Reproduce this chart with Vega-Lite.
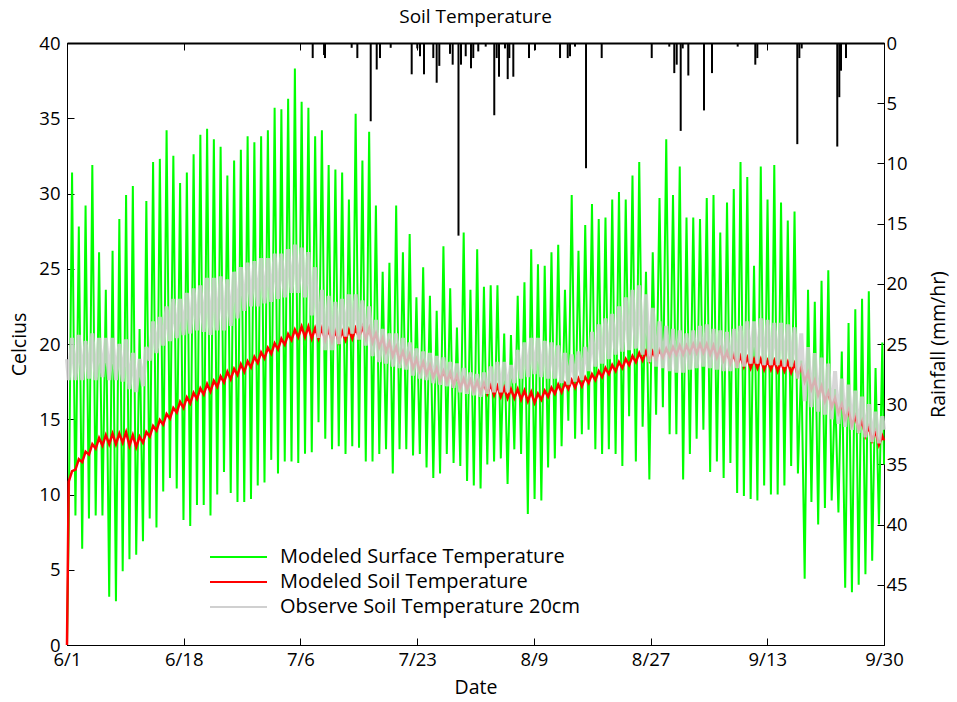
{
"$schema": "https://vega.github.io/schema/vega-lite/v6.json",
"autosize": {"type": "none"},
"width": 817, "height": 602,
"padding": {"left": 67, "top": 43, "right": 73, "bottom": 57},
"background": "white",
"title": {"text": "Soil Temperature", "fontSize": 19, "fontWeight": "normal", "font": "Open Sans", "color": "black", "offset": 7},
"config": {
  "view": {"stroke": "black", "strokeWidth": 1},
  "axis": {"labelFont": "Open Sans", "titleFont": "Open Sans", "labelFontSize": 18.5, "titleFontSize": 19.5, "titleFontWeight": "normal", "labelColor": "black", "titleColor": "black", "domainColor": "black", "tickColor": "black", "grid": false},
  "legend": {"labelFont": "Open Sans", "labelFontSize": 20, "labelColor": "black", "labelLimit": 0}
},
"datasets": {
"temps": [
{"d":0,"s":0,"m":0,"o":19.0},
{"d":0.25,"s":7.8,"m":10.85,"o":17.6},{"d":0.75,"s":31.4,"m":11.55,"o":20.4},
{"d":1.25,"s":8.6,"m":11.65,"o":17.6},{"d":1.75,"s":27.8,"m":12.35,"o":20.6},
{"d":2.25,"s":6.4,"m":12.15,"o":17.6},{"d":2.75,"s":29.2,"m":12.85,"o":20.2},
{"d":3.25,"s":8.4,"m":12.65,"o":17.7},{"d":3.75,"s":31.9,"m":13.35,"o":20.7},
{"d":4.25,"s":8.6,"m":13.05,"o":17.6},{"d":4.75,"s":26.1,"m":13.75,"o":20.4},
{"d":5.25,"s":8.6,"m":13.25,"o":17.8},{"d":5.75,"s":23.6,"m":13.95,"o":20.4},
{"d":6.25,"s":3.2,"m":13.35,"o":17.6},{"d":6.75,"s":26.2,"m":14.05,"o":20.4},
{"d":7.25,"s":2.9,"m":13.35,"o":17.6},{"d":7.75,"s":28.3,"m":14.05,"o":20.0},
{"d":8.25,"s":4.9,"m":13.45,"o":17.5},{"d":8.75,"s":29.9,"m":14.15,"o":20.3},
{"d":9.25,"s":5.7,"m":13.25,"o":17.0},{"d":9.75,"s":30.5,"m":13.95,"o":19.4},
{"d":10.25,"s":6.0,"m":13.15,"o":16.8},{"d":10.75,"s":21.0,"m":13.85,"o":19.0},
{"d":11.25,"s":6.9,"m":13.45,"o":17.2},{"d":11.75,"s":29.5,"m":14.15,"o":19.8},
{"d":12.25,"s":8.4,"m":13.85,"o":18.9},{"d":12.75,"s":32.1,"m":14.55,"o":21.5},
{"d":13.25,"s":7.8,"m":14.25,"o":19.4},{"d":13.75,"s":32.3,"m":14.95,"o":21.8},
{"d":14.25,"s":10.2,"m":14.65,"o":19.9},{"d":14.75,"s":34.2,"m":15.35,"o":22.5},
{"d":15.25,"s":11.1,"m":15.05,"o":20.2},{"d":15.75,"s":32.5,"m":15.75,"o":23.0},
{"d":16.25,"s":10.4,"m":15.45,"o":20.4},{"d":16.75,"s":30.7,"m":16.15,"o":23.0},
{"d":17.25,"s":8.3,"m":15.75,"o":20.6},{"d":17.75,"s":31.4,"m":16.45,"o":23.4},
{"d":18.25,"s":7.9,"m":16.05,"o":20.7},{"d":18.75,"s":32.6,"m":16.75,"o":23.7},
{"d":19.25,"s":9.3,"m":16.35,"o":20.9},{"d":19.75,"s":33.9,"m":17.05,"o":23.9},
{"d":20.25,"s":9.3,"m":16.65,"o":20.8},{"d":20.75,"s":34.3,"m":17.35,"o":24.4},
{"d":21.25,"s":8.6,"m":16.85,"o":20.6},{"d":21.75,"s":33.6,"m":17.55,"o":24.4},
{"d":22.25,"s":10.0,"m":17.15,"o":20.9},{"d":22.75,"s":33.1,"m":17.85,"o":24.5},
{"d":23.25,"s":11.5,"m":17.45,"o":20.9},{"d":23.75,"s":31.2,"m":18.15,"o":24.3},
{"d":24.25,"s":10.1,"m":17.65,"o":21.2},{"d":24.75,"s":32.2,"m":18.35,"o":24.8},
{"d":25.25,"s":9.5,"m":17.95,"o":21.7},{"d":25.75,"s":32.9,"m":18.65,"o":25.1},
{"d":26.25,"s":9.5,"m":18.15,"o":22.2},{"d":26.75,"s":33.8,"m":18.85,"o":25.4},
{"d":27.25,"s":9.7,"m":18.45,"o":22.5},{"d":27.75,"s":33.4,"m":19.15,"o":25.5},
{"d":28.25,"s":10.6,"m":18.75,"o":22.5},{"d":28.75,"s":33.8,"m":19.45,"o":25.7},
{"d":29.25,"s":10.8,"m":19.05,"o":22.7},{"d":29.75,"s":34.2,"m":19.75,"o":25.7},
{"d":30.25,"s":12.3,"m":19.35,"o":22.8},{"d":30.75,"s":35.7,"m":20.05,"o":26.0},
{"d":31.25,"s":11.4,"m":19.65,"o":23.0},{"d":31.75,"s":35.6,"m":20.35,"o":26.0},
{"d":32.25,"s":12.2,"m":19.95,"o":23.1},{"d":32.75,"s":36.3,"m":20.65,"o":26.3},
{"d":33.25,"s":12.2,"m":20.25,"o":23.4},{"d":33.75,"s":38.3,"m":20.95,"o":26.6},
{"d":34.25,"s":12.1,"m":20.45,"o":23.4},{"d":34.75,"s":36.1,"m":21.15,"o":26.4},
{"d":35.25,"s":12.7,"m":20.45,"o":23.1},{"d":35.75,"s":35.7,"m":21.15,"o":26.1},
{"d":36.25,"s":12.8,"m":20.35,"o":21.9},{"d":36.75,"s":33.8,"m":21.05,"o":25.1},
{"d":37.25,"s":14.8,"m":20.35,"o":20.4},{"d":37.75,"s":34.2,"m":21.05,"o":23.6},
{"d":38.25,"s":13.7,"m":20.25,"o":19.6},{"d":38.75,"s":31.9,"m":20.95,"o":23.2},
{"d":39.25,"s":13.0,"m":20.15,"o":19.6},{"d":39.75,"s":31.6,"m":20.85,"o":22.8},
{"d":40.25,"s":13.2,"m":20.15,"o":20.0},{"d":40.75,"s":31.4,"m":20.85,"o":23.0},
{"d":41.25,"s":12.7,"m":20.25,"o":20.5},{"d":41.75,"s":29.6,"m":20.95,"o":23.3},
{"d":42.25,"s":13.2,"m":20.35,"o":20.7},{"d":42.75,"s":35.3,"m":21.05,"o":23.3},
{"d":43.25,"s":13.1,"m":20.45,"o":20.3},{"d":43.75,"s":32.2,"m":21.15,"o":22.9},
{"d":44.25,"s":12.2,"m":20.35,"o":19.9},{"d":44.75,"s":34.1,"m":21.05,"o":22.5},
{"d":45.25,"s":12.2,"m":20.1,"o":19.2},{"d":45.75,"s":29.2,"m":20.7,"o":21.6},
{"d":46.25,"s":12.7,"m":19.8,"o":18.8},{"d":46.75,"s":24.8,"m":20.4,"o":21.0},
{"d":47.25,"s":13.0,"m":19.5,"o":18.7},{"d":47.75,"s":25.4,"m":20.1,"o":20.7},
{"d":48.25,"s":11.4,"m":19.2,"o":18.5},{"d":48.75,"s":29.2,"m":19.8,"o":20.7},
{"d":49.25,"s":13.0,"m":18.9,"o":18.4},{"d":49.75,"s":26.1,"m":19.5,"o":20.4},
{"d":50.25,"s":13.0,"m":18.7,"o":18.3},{"d":50.75,"s":27.3,"m":19.3,"o":20.1},
{"d":51.25,"s":12.6,"m":18.4,"o":17.9},{"d":51.75,"s":23.1,"m":19.0,"o":19.7},
{"d":52.25,"s":12.7,"m":18.2,"o":17.7},{"d":52.75,"s":25.1,"m":18.8,"o":19.5},
{"d":53.25,"s":11.8,"m":18.0,"o":17.6},{"d":53.75,"s":23.2,"m":18.6,"o":19.4},
{"d":54.25,"s":11.1,"m":17.8,"o":17.4},{"d":54.75,"s":22.2,"m":18.4,"o":19.2},
{"d":55.25,"s":11.4,"m":17.6,"o":17.3},{"d":55.75,"s":26.5,"m":18.2,"o":19.1},
{"d":56.25,"s":12.7,"m":17.5,"o":17.2},{"d":56.75,"s":23.7,"m":18.1,"o":18.8},
{"d":57.25,"s":12.1,"m":17.3,"o":17.1},{"d":57.75,"s":21.1,"m":17.9,"o":18.7},
{"d":58.25,"s":11.9,"m":17.1,"o":16.8},{"d":58.75,"s":27.4,"m":17.7,"o":18.4},
{"d":59.25,"s":10.9,"m":17.0,"o":16.7},{"d":59.75,"s":23.6,"m":17.6,"o":18.1},
{"d":60.25,"s":10.6,"m":16.9,"o":16.6},{"d":60.75,"s":26.3,"m":17.5,"o":18.0},
{"d":61.25,"s":10.4,"m":16.8,"o":16.5},{"d":61.75,"s":23.8,"m":17.4,"o":18.1},
{"d":62.25,"s":12.0,"m":16.7,"o":16.7},{"d":62.75,"s":23.9,"m":17.3,"o":18.5},
{"d":63.25,"s":12.2,"m":16.6,"o":16.8},{"d":63.75,"s":23.9,"m":17.2,"o":18.8},
{"d":64.25,"s":12.4,"m":16.5,"o":16.8},{"d":64.75,"s":20.7,"m":17.1,"o":18.8},
{"d":65.25,"s":10.7,"m":16.4,"o":16.8},{"d":65.75,"s":20.6,"m":17.0,"o":18.6},
{"d":66.25,"s":13.0,"m":16.4,"o":17.4},{"d":66.75,"s":23.2,"m":17.0,"o":19.6},
{"d":67.25,"s":12.7,"m":16.3,"o":17.7},{"d":67.75,"s":24.1,"m":16.9,"o":20.1},
{"d":68.25,"s":8.7,"m":16.2,"o":17.8},{"d":68.75,"s":26.3,"m":16.8,"o":20.4},
{"d":69.25,"s":9.7,"m":16.1,"o":18.0},{"d":69.75,"s":25.3,"m":16.7,"o":20.4},
{"d":70.25,"s":9.6,"m":16.3,"o":17.8},{"d":70.75,"s":25.2,"m":16.9,"o":20.2},
{"d":71.25,"s":11.8,"m":16.5,"o":17.7},{"d":71.75,"s":26.1,"m":17.1,"o":20.1},
{"d":72.25,"s":12.4,"m":16.7,"o":17.7},{"d":72.75,"s":26.6,"m":17.3,"o":19.9},
{"d":73.25,"s":13.2,"m":16.8,"o":17.4},{"d":73.75,"s":23.6,"m":17.4,"o":19.4},
{"d":74.25,"s":14.9,"m":17.0,"o":17.3},{"d":74.75,"s":29.9,"m":17.6,"o":19.3},
{"d":75.25,"s":13.7,"m":17.1,"o":17.5},{"d":75.75,"s":26.2,"m":17.7,"o":19.5},
{"d":76.25,"s":14.0,"m":17.2,"o":17.6},{"d":76.75,"s":27.9,"m":17.8,"o":19.8},
{"d":77.25,"s":14.3,"m":17.4,"o":18.2},{"d":77.75,"s":29.3,"m":18.0,"o":20.8},
{"d":78.25,"s":13.0,"m":17.6,"o":18.5},{"d":78.75,"s":28.3,"m":18.2,"o":21.3},
{"d":79.25,"s":12.7,"m":17.8,"o":18.7},{"d":79.75,"s":28.4,"m":18.4,"o":21.7},
{"d":80.25,"s":13.0,"m":18.0,"o":19.0},{"d":80.75,"s":29.6,"m":18.6,"o":22.0},
{"d":81.25,"s":12.7,"m":18.2,"o":19.3},{"d":81.75,"s":30.1,"m":18.8,"o":22.5},
{"d":82.25,"s":11.9,"m":18.4,"o":19.5},{"d":82.75,"s":29.6,"m":19.0,"o":23.1},
{"d":83.25,"s":15.2,"m":18.6,"o":19.6},{"d":83.75,"s":31.2,"m":19.2,"o":23.6},
{"d":84.25,"s":12.2,"m":18.8,"o":19.7},{"d":84.75,"s":32.1,"m":19.4,"o":23.9},
{"d":85.25,"s":14.5,"m":18.9,"o":19.3},{"d":85.75,"s":24.8,"m":19.5,"o":23.3},
{"d":86.25,"s":11.0,"m":18.9,"o":18.8},{"d":86.75,"s":26.1,"m":19.5,"o":22.4},
{"d":87.25,"s":15.3,"m":19.0,"o":18.5},{"d":87.75,"s":29.7,"m":19.6,"o":21.5},
{"d":88.25,"s":15.8,"m":19.1,"o":18.4},{"d":88.75,"s":33.6,"m":19.7,"o":21.2},
{"d":89.25,"s":14.0,"m":19.2,"o":18.2},{"d":89.75,"s":29.9,"m":19.8,"o":21.0},
{"d":90.25,"s":14.0,"m":19.3,"o":18.1},{"d":90.75,"s":31.8,"m":19.9,"o":20.9},
{"d":91.25,"s":11.0,"m":19.3,"o":18.1},{"d":91.75,"s":28.4,"m":19.9,"o":20.7},
{"d":92.25,"s":12.7,"m":19.4,"o":18.3},{"d":92.75,"s":28.4,"m":20.0,"o":20.9},
{"d":93.25,"s":13.7,"m":19.4,"o":18.4},{"d":93.75,"s":28.3,"m":20.0,"o":21.2},
{"d":94.25,"s":14.3,"m":19.4,"o":18.5},{"d":94.75,"s":29.7,"m":20.0,"o":21.3},
{"d":95.25,"s":11.5,"m":19.3,"o":18.4},{"d":95.75,"s":29.9,"m":19.9,"o":21.0},
{"d":96.25,"s":12.2,"m":19.1,"o":18.3},{"d":96.75,"s":27.4,"m":19.7,"o":20.9},
{"d":97.25,"s":11.1,"m":18.9,"o":18.2},{"d":97.75,"s":29.4,"m":19.5,"o":20.8},
{"d":98.25,"s":12.1,"m":18.7,"o":18.2},{"d":98.75,"s":30.3,"m":19.3,"o":21.0},
{"d":99.25,"s":10.1,"m":18.6,"o":18.4},{"d":99.75,"s":32.1,"m":19.2,"o":21.2},
{"d":100.25,"s":9.9,"m":18.5,"o":18.5},{"d":100.75,"s":31.1,"m":19.1,"o":21.5},
{"d":101.25,"s":9.7,"m":18.4,"o":18.7},{"d":101.75,"s":25.2,"m":19.0,"o":21.5},
{"d":102.25,"s":9.6,"m":18.4,"o":18.7},{"d":102.75,"s":31.8,"m":19.0,"o":21.7},
{"d":103.25,"s":10.6,"m":18.3,"o":18.6},{"d":103.75,"s":29.6,"m":18.9,"o":21.6},
{"d":104.25,"s":10.0,"m":18.3,"o":18.6},{"d":104.75,"s":31.9,"m":18.9,"o":21.4},
{"d":105.25,"s":10.0,"m":18.2,"o":18.6},{"d":105.75,"s":29.4,"m":18.8,"o":21.4},
{"d":106.25,"s":10.6,"m":18.2,"o":18.5},{"d":106.75,"s":28.2,"m":18.8,"o":21.3},
{"d":107.25,"s":11.9,"m":18.1,"o":18.5},{"d":107.75,"s":28.8,"m":18.7,"o":21.1},
{"d":108.25,"s":11.4,"m":17.9,"o":17.7},{"d":108.75,"s":18.9,"m":18.5,"o":20.7},
{"d":109.25,"s":4.4,"m":17.5,"o":16.2},{"d":109.75,"s":23.6,"m":18.1,"o":19.8},
{"d":110.25,"s":9.5,"m":17.0,"o":15.8},{"d":110.75,"s":22.8,"m":17.6,"o":19.4},
{"d":111.25,"s":8.0,"m":16.6,"o":15.5},{"d":111.75,"s":24.2,"m":17.2,"o":19.1},
{"d":112.25,"s":9.1,"m":16.2,"o":15.3},{"d":112.75,"s":24.9,"m":16.8,"o":18.7},
{"d":113.25,"s":9.6,"m":15.8,"o":15.0},{"d":113.75,"s":17.0,"m":16.4,"o":18.2},
{"d":114.25,"s":8.8,"m":15.4,"o":14.7},{"d":114.75,"s":19.5,"m":16.0,"o":17.7},
{"d":115.25,"s":3.8,"m":15.0,"o":14.5},{"d":115.75,"s":21.4,"m":15.6,"o":17.3},
{"d":116.25,"s":3.5,"m":14.6,"o":14.3},{"d":116.75,"s":22.3,"m":15.2,"o":16.9},
{"d":117.25,"s":4.0,"m":14.3,"o":14.1},{"d":117.75,"s":23.0,"m":14.9,"o":16.5},
{"d":118.25,"s":4.7,"m":13.9,"o":13.8},{"d":118.75,"s":23.5,"m":14.5,"o":16.0},
{"d":119.25,"s":5.6,"m":13.6,"o":13.5},{"d":119.75,"s":18.4,"m":14.2,"o":15.5},
{"d":120.25,"s":8.0,"m":13.3,"o":13.4},{"d":120.75,"s":20.1,"m":13.9,"o":15.2},
{"d":121,"s":12.0,"m":13.6,"o":14.3}
],
"rain": [
{"d":36.39,"r":1.25},{"d":38.07,"r":1.0},{"d":38.21,"r":1.25},{"d":42.16,"r":0.4},{"d":43.0,"r":1.25},
{"d":44.98,"r":6.5},{"d":45.87,"r":2.2},{"d":46.36,"r":1.25},{"d":47.94,"r":0.4},{"d":51.05,"r":2.6},
{"d":51.88,"r":0.45},{"d":52.28,"r":1.1},{"d":52.87,"r":2.6},{"d":54.25,"r":1.25},{"d":54.75,"r":3.3},
{"d":55.14,"r":1.9},{"d":56.72,"r":0.9},{"d":57.12,"r":1.8},{"d":57.98,"r":16.0},{"d":58.35,"r":1.8},
{"d":59.05,"r":1.1},{"d":59.83,"r":2.1},{"d":60.17,"r":1.25},{"d":60.91,"r":0.7},{"d":62.01,"r":0.3},
{"d":63.28,"r":6.0},{"d":63.64,"r":1.25},{"d":63.98,"r":2.8},{"d":64.87,"r":0.45},{"d":65.27,"r":3.0},
{"d":65.51,"r":1.25},{"d":66.1,"r":2.8},{"d":68.42,"r":1.25},{"d":69.31,"r":0.6},{"d":73.02,"r":1.25},
{"d":74.16,"r":1.25},{"d":74.5,"r":1.1},{"d":75.24,"r":0.3},{"d":76.87,"r":10.4},{"d":79.19,"r":1.25},
{"d":86.6,"r":1.25},{"d":89.2,"r":0.3},{"d":89.94,"r":2.5},{"d":90.3,"r":1.8},{"d":90.89,"r":7.3},
{"d":91.19,"r":0.45},{"d":92.02,"r":2.7},{"d":94.34,"r":5.6},{"d":95.53,"r":2.5},{"d":99.33,"r":0.3},
{"d":101.94,"r":1.8},{"d":102.24,"r":1.25},{"d":108.16,"r":8.4},{"d":108.46,"r":1.25},{"d":108.81,"r":0.45},
{"d":114.08,"r":8.6},{"d":114.38,"r":4.5},{"d":114.63,"r":2.3},{"d":115.37,"r":1.25}
]
},
"layer": [
{
  "layer": [
    {
      "data": {"name": "temps"},
      "mark": {"type": "line", "strokeWidth": 2, "interpolate": "linear"},
      "encoding": {
        "x": {"field": "d", "type": "quantitative", "scale": {"domain": [0, 121], "nice": false, "zero": false},
              "axis": {"orient": "bottom", "title": "Date", "values": [0, 17.2857, 34.5714, 51.8571, 69.1429, 86.4286, 103.7143, 121],
                       "labelExpr": "['6/1','6/18','7/6','7/23','8/9','8/27','9/13','9/30'][round(datum.value*7/121)]",
                       "tickSize": -7, "labelPadding": 12, "titlePadding": 10, "labelFlush": false}},
        "y": {"field": "s", "type": "quantitative", "scale": {"domain": [0, 40], "nice": false},
              "axis": {"title": "Celcius", "values": [0,5,10,15,20,25,30,35,40], "tickSize": -7, "labelPadding": 14, "titlePadding": 9}},
        "color": {"datum": "Modeled Surface Temperature", "type": "nominal",
                  "scale": {"domain": ["Modeled Surface Temperature", "Modeled Soil Temperature", "Observe Soil Temperature 20cm"], "range": ["#00ff00", "#ff0000", "#d0d0d0"]},
                  "legend": {"title": null, "orient": "none", "legendX": 133, "legendY": 504, "symbolType": "M0,0H11.4", "symbolSize": 100, "symbolStrokeWidth": 2, "labelOffset": 60, "rowPadding": 5, "padding": 0,
                             "encode": {"symbols": {"update": {"strokeWidth": {"value": 2}, "opacity": {"value": 1}}}}}}
      }
    },
    {
      "data": {"name": "temps"},
      "mark": {"type": "line", "strokeWidth": 2.5},
      "encoding": {
        "x": {"field": "d", "type": "quantitative"},
        "y": {"field": "m", "type": "quantitative"},
        "color": {"datum": "Modeled Soil Temperature", "type": "nominal"}
      }
    },
    {
      "data": {"name": "temps"},
      "mark": {"type": "line", "strokeWidth": 4, "opacity": 0.85},
      "encoding": {
        "x": {"field": "d", "type": "quantitative"},
        "y": {"field": "o", "type": "quantitative"},
        "color": {"datum": "Observe Soil Temperature 20cm", "type": "nominal"}
      }
    }
  ]
},
{
  "data": {"name": "rain"},
  "mark": {"type": "rule", "color": "black", "strokeWidth": 2},
  "encoding": {
    "x": {"field": "d", "type": "quantitative",
          "axis": {"orient": "top", "title": null, "labels": false, "values": [0, 17.2857, 34.5714, 51.8571, 69.1429, 86.4286, 103.7143, 121], "tickSize": -7, "domainWidth": 2}},
    "y": {"field": "r", "type": "quantitative", "scale": {"domain": [0, 50], "reverse": true, "nice": false},
          "axis": {"orient": "right", "title": "Rainfall (mm/hr)", "titleAngle": -90, "values": [0,5,10,15,20,25,30,35,40,45], "tickSize": -7, "labelPadding": 9, "titlePadding": 41,
                   "encode": {"labels": {"update": {"align": {"value": "left"}}}}}},
    "y2": {"datum": 0}
  }
}
],
"resolve": {"scale": {"y": "independent"}, "axis": {"y": "independent", "x": "independent"}}
}
